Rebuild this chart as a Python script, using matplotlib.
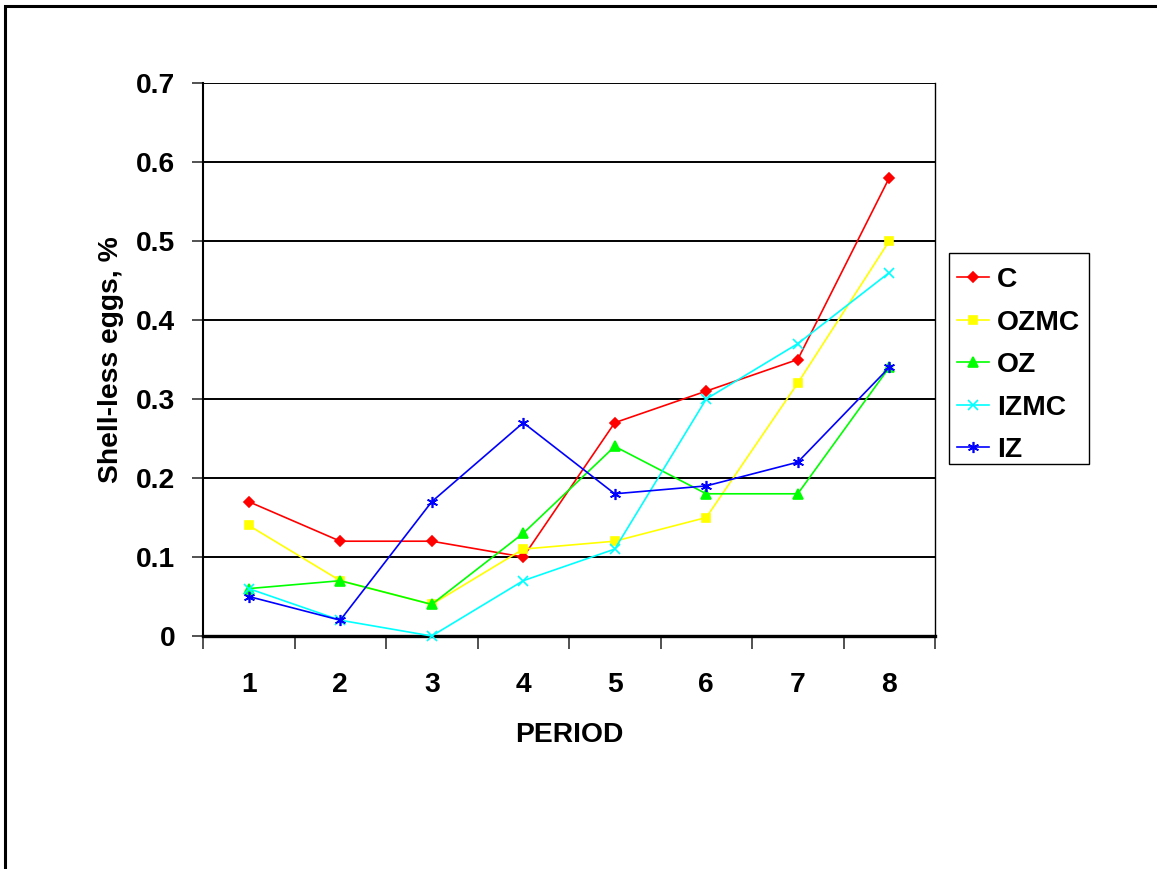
import matplotlib
matplotlib.use("Agg")
import matplotlib.pyplot as plt
from matplotlib.patches import Rectangle
import numpy as np

plt.rcParams['font.family'] = ['Liberation Sans', 'DejaVu Sans']

periods = [1, 2, 3, 4, 5, 6, 7, 8]
c_vals    = [0.17, 0.12, 0.12, 0.10, 0.27, 0.31, 0.35, 0.58]
ozmc_vals = [0.14, 0.07, 0.04, 0.11, 0.12, 0.15, 0.32, 0.50]
oz_vals   = [0.06, 0.07, 0.04, 0.13, 0.24, 0.18, 0.18, 0.34]
izmc_vals = [0.06, 0.02, 0.00, 0.07, 0.11, 0.30, 0.37, 0.46]
iz_vals   = [0.05, 0.02, 0.17, 0.27, 0.18, 0.19, 0.22, 0.34]
y_ticks = [0, 0.1, 0.2, 0.3, 0.4, 0.5, 0.6, 0.7]
y_tick_labels = ['0', '0.1', '0.2', '0.3', '0.4', '0.5', '0.6', '0.7']

FS = 20.3
W, H = 1157, 869
fig = plt.figure(figsize=(W / 100, H / 100), dpi=100)
fig.patch.set_facecolor('white')

# outer chart-area border (runs off the right and bottom edges)
fig.patches.append(Rectangle((5.5 / W, -0.05), 1.2, 1 - 5.5 / H + 0.05,
                             transform=fig.transFigure, fill=False,
                             edgecolor='black', linewidth=2.2, zorder=0))

ax = fig.add_axes([203 / W, 1 - 636 / H, (935 - 203) / W, (636 - 83) / H])

series = [
    ('C', c_vals, '#FF0000', 'D', 5.5),
    ('OZMC', ozmc_vals, '#FFFF00', 's', 6),
    ('OZ', oz_vals, '#00FF00', '^', 7),
    ('IZMC', izmc_vals, '#00FFFF', 'x', 7),
    ('IZ', iz_vals, '#0000FF', (6, 2, 0), 8),
]
x = np.array(periods)
for name, vals, col, mk, ms in series:
    ax.plot(x, vals, color=col, linewidth=1.2, marker=mk, markersize=ms,
            markerfacecolor=col, markeredgecolor=col, markeredgewidth=1.2,
            label=name, zorder=3, clip_on=False)

ax.set_xlim(0.5, 8.5)
ax.set_ylim(0, 0.7)
ax.set_yticks(y_ticks)
ax.set_yticklabels(y_tick_labels)
ax.set_xticks(periods)
ax.set_xticks(np.arange(0.5, 9.0, 1.0), minor=True)
ax.tick_params(axis='x', which='major', length=0, pad=26, labelsize=FS)
ax.tick_params(axis='x', which='minor', length=9, width=1.2, color='#333333')
ax.tick_params(axis='y', length=8, width=1.2, pad=12, labelsize=FS, color='#333333')
for lbl in ax.get_xticklabels() + ax.get_yticklabels():
    lbl.set_fontweight('bold')

for yv in y_ticks[1:]:
    ax.axhline(yv, color='black', linewidth=1.4, zorder=1)

ax.spines['top'].set_visible(False)
ax.spines['right'].set_linewidth(1.0)
ax.spines['left'].set_linewidth(1.5)
ax.spines['bottom'].set_linewidth(2.4)

ax.set_xlabel('PERIOD', fontsize=FS, fontweight='bold', labelpad=17)
ax.set_ylabel('Shell-less eggs, %', fontsize=FS, fontweight='bold', labelpad=8.5)

# legend entries, with a plain rectangular frame drawn around them
leg = fig.legend(loc='upper left', bbox_to_anchor=(948 / W, 1 - 258 / H),
                 bbox_transform=fig.transFigure, frameon=False,
                 prop={'weight': 'bold', 'size': FS},
                 handlelength=1.13, handletextpad=0.28, labelspacing=0.585,
                 borderpad=0.33, borderaxespad=0)
fig.patches.append(Rectangle((948.5 / W, 1 - 464 / H), 140 / W, 211 / H,
                             transform=fig.transFigure, fill=False,
                             edgecolor='black', linewidth=1.0))

fig.savefig('out.png', dpi=100, facecolor='white')
